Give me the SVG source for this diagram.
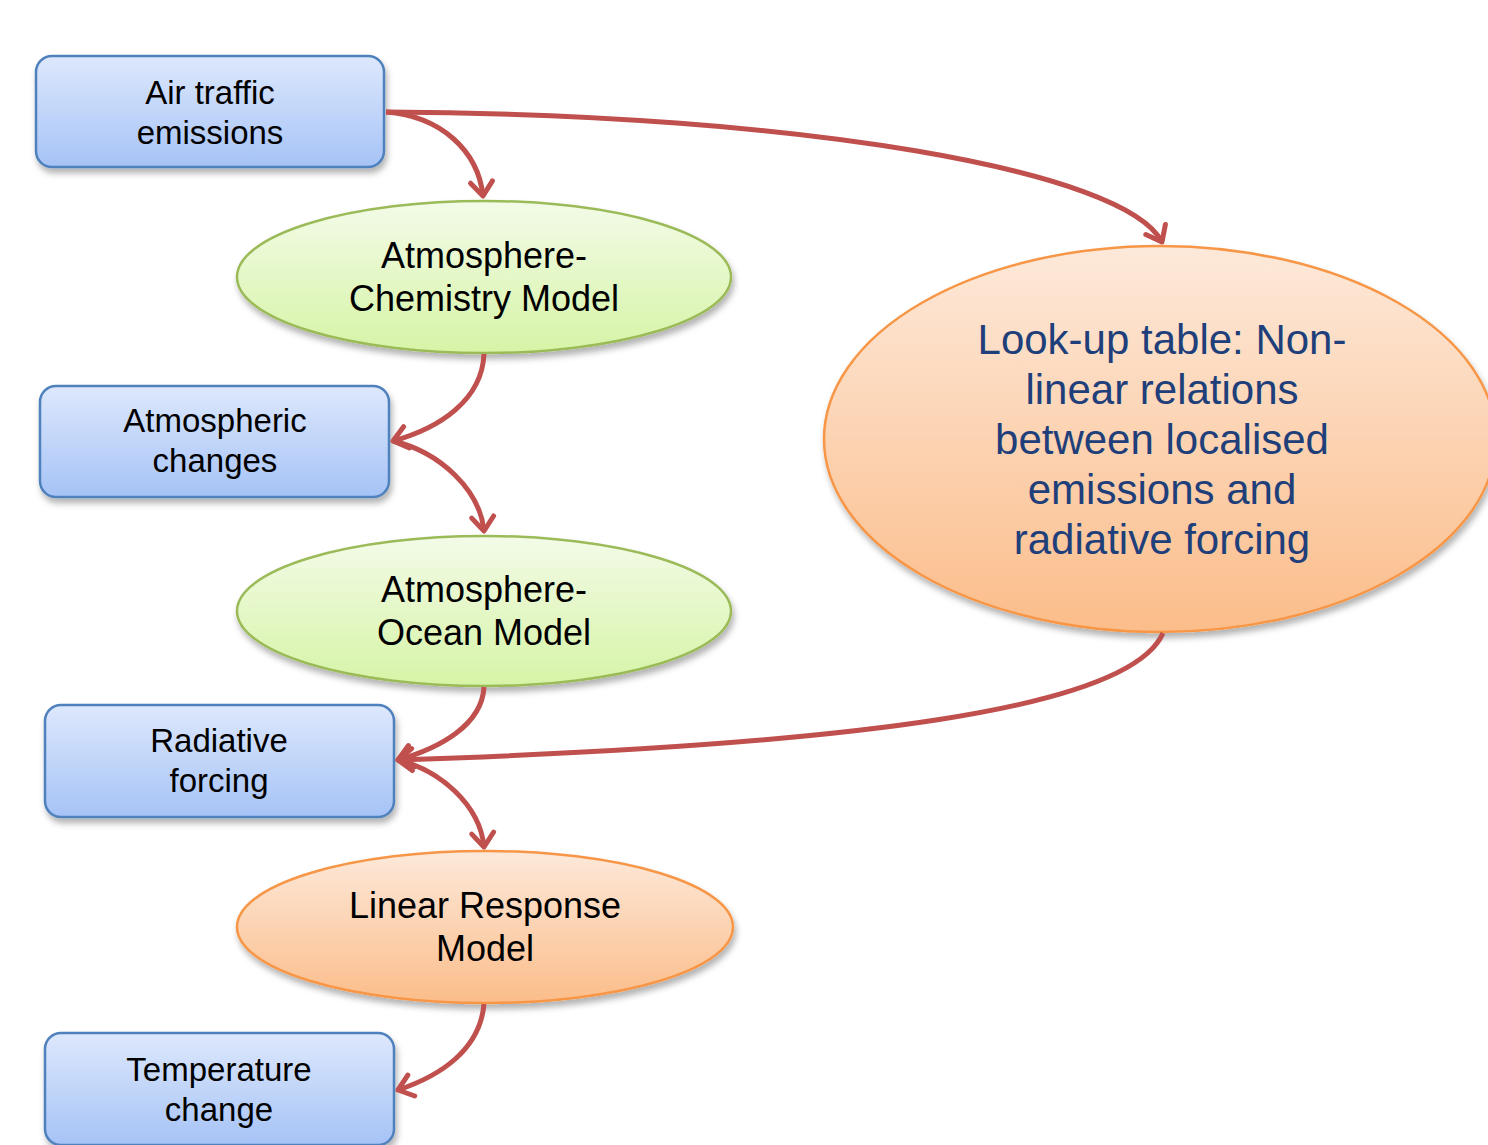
<svg xmlns="http://www.w3.org/2000/svg" width="1488" height="1145" viewBox="0 0 1488 1145">
<defs>
<linearGradient id="gBlue" x1="0" y1="0" x2="0" y2="1"><stop offset="0" stop-color="#dde8fc"/><stop offset="1" stop-color="#a6c3f6"/></linearGradient>
<linearGradient id="gGreen" x1="0" y1="0" x2="0" y2="1"><stop offset="0" stop-color="#f3fbe8"/><stop offset="1" stop-color="#d6f4a6"/></linearGradient>
<linearGradient id="gOrange" x1="0" y1="0" x2="0" y2="1"><stop offset="0" stop-color="#fde9da"/><stop offset="1" stop-color="#fbbd8a"/></linearGradient>
<filter id="sh" x="-10%" y="-10%" width="130%" height="140%"><feDropShadow dx="2" dy="5" stdDeviation="3" flood-color="#000" flood-opacity="0.3"/></filter>
<marker id="arr" markerUnits="userSpaceOnUse" markerWidth="40" markerHeight="40" viewBox="-20 -20 40 40" refX="0" refY="0" orient="auto">
<path d="M-14,-11 L0,0 L-14,11" fill="none" stroke="#c0504d" stroke-width="5" stroke-linecap="round" stroke-linejoin="round"/>
</marker>
<style>
.box{fill:url(#gBlue);stroke:#4f81bd;stroke-width:2.5;filter:url(#sh)}
.eg{fill:url(#gGreen);stroke:#9bbb59;stroke-width:2.5;filter:url(#sh)}
.eo{fill:url(#gOrange);stroke:#f79646;stroke-width:2.5;filter:url(#sh)}
.t{font-family:"Liberation Sans",Arial,sans-serif;font-size:33px;fill:#000;text-anchor:middle}
.te{font-family:"Liberation Sans",Arial,sans-serif;font-size:36px;fill:#000;text-anchor:middle}
.tb{font-family:"Liberation Sans",Arial,sans-serif;font-size:42px;fill:#1f3f7a;text-anchor:middle}
.c{fill:none;stroke:#c0504d;stroke-width:5;marker-end:url(#arr)}
</style>
</defs>
<rect width="1488" height="1145" fill="#fff"/>
<g id="n-air"><rect class="box" x="36" y="56" width="348" height="111" rx="16"/><text class="t" x="210" y="104">Air traffic</text><text class="t" x="210" y="144">emissions</text></g>
<g id="n-acm"><ellipse class="eg" cx="484" cy="277" rx="247" ry="76"/><text class="te" x="484" y="268">Atmosphere-</text><text class="te" x="484" y="311">Chemistry Model</text></g>
<g id="n-atc"><rect class="box" x="40" y="386" width="349" height="111" rx="16"/><text class="t" x="215" y="432">Atmospheric</text><text class="t" x="215" y="472">changes</text></g>
<g id="n-aom"><ellipse class="eg" cx="484" cy="611" rx="247" ry="75"/><text class="te" x="484" y="602">Atmosphere-</text><text class="te" x="484" y="645">Ocean Model</text></g>
<g id="n-rf"><rect class="box" x="45" y="705" width="349" height="112" rx="16"/><text class="t" x="219" y="752">Radiative</text><text class="t" x="219" y="792">forcing</text></g>
<g id="n-lrm"><ellipse class="eo" cx="485" cy="927" rx="248" ry="76"/><text class="te" x="485" y="918">Linear Response</text><text class="te" x="485" y="961">Model</text></g>
<g id="n-tc"><rect class="box" x="45" y="1033" width="349" height="112" rx="16"/><text class="t" x="219" y="1081">Temperature</text><text class="t" x="219" y="1121">change</text></g>
<g id="n-lut"><ellipse class="eo" cx="1160" cy="439" rx="336" ry="193"/>
<text class="tb" x="1162" y="354">Look-up table: Non-</text>
<text class="tb" x="1162" y="404">linear relations</text>
<text class="tb" x="1162" y="454">between localised</text>
<text class="tb" x="1162" y="504">emissions and</text>
<text class="tb" x="1162" y="554">radiative forcing</text></g>
<g id="connectors">
<path class="c" d="M386,112 C440,116 478,150 483,196"/>
<path class="c" d="M386,112 C800,114 1125,170 1162,242"/>
<path class="c" d="M484,354 C482,400 440,428 393,441"/>
<path class="c" d="M393,441 C440,452 480,490 484,531"/>
<path class="c" d="M484,687 C482,725 440,748 398,760"/>
<path class="c" d="M1163,633 C1130,710 850,745 398,760"/>
<path class="c" d="M398,760 C440,770 480,805 484,847"/>
<path class="c" d="M484,1004 C480,1050 440,1076 398,1090"/>
</g>
</svg>
